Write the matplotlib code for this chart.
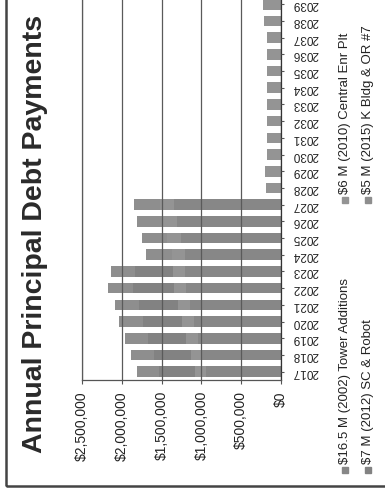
import matplotlib
matplotlib.use("Agg")
import matplotlib.pyplot as plt
from matplotlib.patches import Rectangle
import numpy as np

years = [str(y) for y in range(2017, 2040)]
tower = [940000, 990000, 1040000, 1090000, 1140000, 1190000, 1200000, 1210000,
         1260000, 1310000, 1350000, 0, 0, 0, 0, 0, 0, 0, 0, 0, 0, 0, 0]
central = [140000, 140000, 150000, 150000, 150000, 160000, 160000, 160000,
           170000, 170000, 170000, 190000, 200000, 170000, 170000, 170000,
           170000, 180000, 180000, 180000, 170000, 210000, 220000]
sc_robot = [450000, 460000, 480000, 490000, 500000, 510000, 470000, 0,
            0, 0, 0, 0, 0, 0, 0, 0, 0, 0, 0, 0, 0, 0, 0]
k_bldg = [280000, 290000, 290000, 300000, 300000, 310000, 310000, 320000,
          320000, 330000, 330000, 0, 0, 0, 0, 0, 0, 0, 0, 0, 0, 0, 0]
series = [tower, central, sc_robot, k_bldg]
series_names = ["$16.5 M (2002) Tower Additions", "$6 M (2010) Central Enr Plt",
                "$7 M (2012) SC & Robot", "$5 M (2015) K Bldg & OR #7"]
series_colors = ["#878787", "#949494", "#828282", "#8e8e8e"]
value_ticks = [0, 500000, 1000000, 1500000, 2000000, 2500000]
title = "Annual Principal Debt Payments"

plt.rcParams['font.family'] = ['Liberation Sans', 'DejaVu Sans']

W, H = 385, 497
fig = plt.figure(figsize=(W / 100, H / 100), dpi=100)


def fx(px):
    return px / W


def fy(py):
    return 1 - py / H


# the page is scanned sideways: value axis runs right-to-left, years bottom-to-top
step = 16.7
ax = fig.add_axes([fx(82), fy(380), fx(281) - fx(82), len(years) * step / H])
pos = np.arange(len(years))
left = np.zeros(len(years))
for vals, name, col in zip(series, series_names, series_colors):
    ax.barh(pos, vals, left=left, height=0.64, color=col, edgecolor='none', label=name)
    left += np.array(vals)

ax.set_xlim(2500000, 0)
ax.set_ylim(-0.5, len(years) - 0.5)
ax.set_xticks(value_ticks)
ax.set_xticklabels(['${:,.0f}'.format(v) for v in value_ticks], rotation=90,
                   fontsize=10, color='#222222')
ax.yaxis.tick_right()
ax.set_yticks(pos)
ax.set_yticklabels(years, rotation=180, fontsize=8.5, ha='left', va='center',
                   color='#222222')
ax.tick_params(axis='x', length=3, pad=5, color='#555555')
ax.tick_params(axis='y', length=2, pad=6, color='#555555')

ax.grid(axis='x', color='#5a5a5a', lw=0.9)
ax.set_axisbelow(False)
ax.spines['top'].set_visible(False)
ax.spines['left'].set_color('#666666')
ax.spines['left'].set_linestyle((0, (2, 1)))
ax.spines['right'].set_color('#333333')
ax.spines['bottom'].set_color('#555555')
for s in ax.spines.values():
    s.set_linewidth(0.9)

# title, rotated with the page
fig.text(fx(35), fy(234), title, rotation=90, ha='center', va='center',
         fontsize=20.5, fontweight='bold', color='#2a2a2a')

# legend, two rows laid out sideways
legend_spots = [(345, 470), (345, 200), (368, 470), (368, 200)]
for (lx, ly), name, col in zip(legend_spots, series_names, series_colors):
    fig.add_artist(Rectangle((fx(lx - 3), fy(ly + 3)), 6 / W, 6 / H, color=col,
                             transform=fig.transFigure))
    fig.text(fx(lx), fy(ly - 6), name, rotation=90, ha='center', va='bottom',
             fontsize=9.5, color='#222222')

# outer frame of the scanned chart
fig.add_artist(Rectangle((fx(6), fy(486)), 1.0, 1.0, fill=False, lw=1.8,
                         edgecolor='#444444', transform=fig.transFigure))

fig.savefig("out.png", dpi=100)
